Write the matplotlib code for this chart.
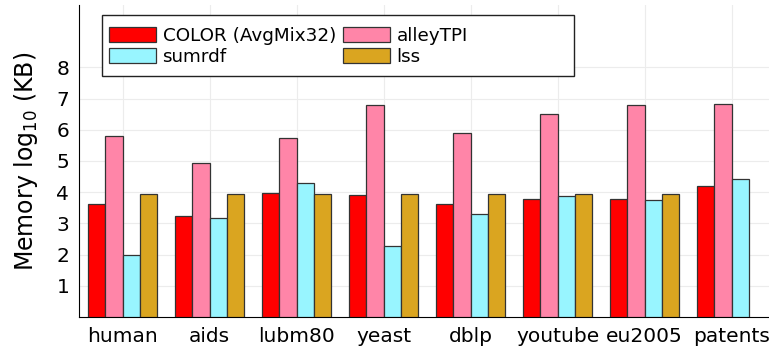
import numpy as np
import matplotlib
matplotlib.use('Agg')
import matplotlib.pyplot as plt
from matplotlib.patches import Rectangle

datasets = ['human', 'aids', 'lubm80', 'yeast', 'dblp', 'youtube', 'eu2005', 'patents']
methods = ['COLOR (AvgMix32)', 'alleyTPI', 'sumrdf', 'lss']
color_vals = [3.62, 3.25, 3.96, 3.91, 3.62, 3.77, 3.77, 4.20]
alley_vals = [5.80, 4.93, 5.75, 6.78, 5.89, 6.50, 6.81, 6.83]
sumrdf_vals = [1.99, 3.18, 4.28, 2.29, 3.29, 3.88, 3.75, 4.42]
lss_vals = [3.94, 3.94, 3.94, 3.94, 3.94, 3.94, 3.94, np.nan]
y_ticks = [1, 2, 3, 4, 5, 6, 7, 8]

colors = ['#FF0000', '#FF85A8', '#98F5FF', '#DAA520']
series = [color_vals, alley_vals, sumrdf_vals, lss_vals]

fig = plt.figure(figsize=(7.69, 3.47), dpi=100)
ax = fig.add_axes([79/769, 30/347, 1 - 79/769, 312/347])

x = np.arange(len(datasets))
w = 0.2
bars = []
for i, (vals, c, lab) in enumerate(zip(series, colors, methods)):
    b = ax.bar(x + (i - 1.5) * w, vals, w, color=c, edgecolor='#333333', linewidth=0.9,
               label=lab, zorder=3)
    bars.append(b)

ax.set_xlim(-0.5, 7.43)
ax.set_ylim(0, 10)
ax.set_xticks(x)
ax.set_xticklabels(datasets, fontsize=14.5)
ax.set_yticks(y_ticks)
ax.set_yticklabels([str(t) for t in y_ticks], fontsize=14.5)
ax.tick_params(length=0, pad=7)
ax.grid(True, color='#ececec', linewidth=0.8, zorder=0)
for s in ['top', 'right']:
    ax.spines[s].set_visible(False)
ax.set_ylabel(r'Memory log$_{10}$ (KB)', fontsize=17, labelpad=12)

# legend box is wider than its entries in the original
ax.add_patch(Rectangle((0.0333, 0.772), 0.684, 0.196, transform=ax.transAxes,
                       facecolor='white', edgecolor='#222222', linewidth=1.0, zorder=5))

# row-major order like the original legend
order = [0, 2, 1, 3]
leg = ax.legend([bars[i] for i in order], [methods[i] for i in order], ncol=2,
                loc='upper left', bbox_to_anchor=(0.044, 0.93), fontsize=13.2,
                frameon=False, handlelength=2.55,
                handleheight=0.88, handletextpad=0.35, columnspacing=0.4,
                labelspacing=0.15, borderpad=0, borderaxespad=0)
leg.set_zorder(6)

fig.savefig('out.png', dpi=100)
